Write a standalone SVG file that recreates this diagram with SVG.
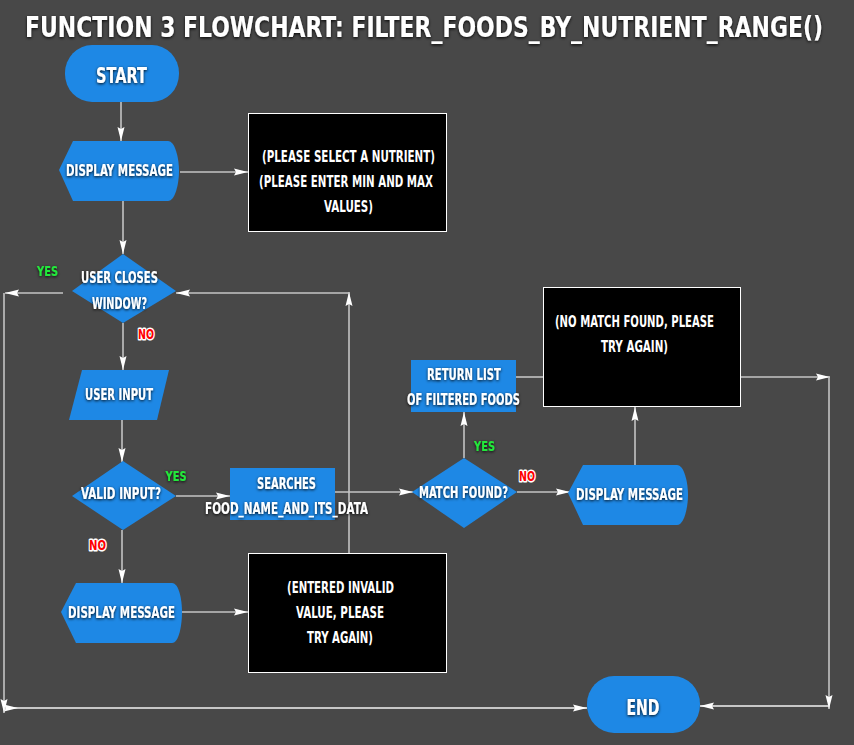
<svg xmlns="http://www.w3.org/2000/svg" width="854" height="745" viewBox="0 0 854 745">
<defs>
<style>
.t{font-family:"Liberation Sans Narrow","DejaVu Sans Condensed","Liberation Sans",sans-serif;font-weight:bold;fill:#fff;text-anchor:middle}
.n{font-size:16px;filter:url(#ts)}
.b{font-size:16px}
.big{font-size:21px;filter:url(#ts)}
.yes{font-family:"Liberation Sans Narrow","DejaVu Sans Condensed",sans-serif;font-weight:bold;font-size:14px;fill:#22e83a;filter:url(#ts);text-anchor:middle}
.no{font-family:"Liberation Sans Narrow","DejaVu Sans Condensed",sans-serif;font-weight:bold;font-size:14px;fill:#f00;stroke:#fff;stroke-width:3;paint-order:stroke;stroke-linejoin:round;text-anchor:middle}
.shape{fill:#1e88e5}
.box{fill:#000;stroke:#fff;stroke-width:1}
.c{fill:none;stroke:#c4c4c4;stroke-width:1.6}
.w{fill:none;stroke:#f2f2f2;stroke-width:1.6}
.a{marker-end:url(#ah)}
</style>
<filter id="ts" x="-20%" y="-40%" width="140%" height="180%">
<feDropShadow dx="0" dy="1" stdDeviation="1.6" flood-color="#000" flood-opacity="0.9"/>
</filter>
<marker id="ah" markerUnits="userSpaceOnUse" markerWidth="15" markerHeight="8" refX="14" refY="4" orient="auto">
<path d="M0,0.5 L14,4 L0,7.5 L2,4 z" fill="#fff"/>
</marker>
<marker id="as" markerUnits="userSpaceOnUse" markerWidth="15" markerHeight="8" refX="0" refY="4" orient="auto">
<path d="M0,0.5 L14,4 L0,7.5 L2,4 z" fill="#fff"/>
</marker>
</defs>
<rect width="854" height="745" fill="#484848"/>
<g transform="translate(424,37) scale(1,1.15)">
<text class="t" x="0" y="0" font-size="25" textLength="798" lengthAdjust="spacingAndGlyphs" filter="url(#ts)">FUNCTION 3 FLOWCHART: FILTER_FOODS_BY_NUTRIENT_RANGE()</text>
</g>

<g id="connectors">
<path class="c a" d="M121,102 V141"/>
<path class="c a" d="M180,172 H248"/>
<path class="c a" d="M123,201 V254"/>
<path class="c a" d="M63,293 H5"/>
<path class="c a" d="M4,293 V713"/>
<path class="w a" d="M4,708 H587" marker-start="url(#as)"/>
<path class="c a" d="M123,323 V370"/>
<path class="c a" d="M122,420 V462"/>
<path class="c a" d="M176,496 H230"/>
<path class="c a" d="M122,530 V583"/>
<path class="c a" d="M182,612 H248"/>
<path class="c a" d="M349,553 V292"/>
<path class="c a" d="M349,293 H176"/>
<path class="c a" d="M335,492 H413"/>
<path class="c a" d="M517,492 H570"/>
<path class="c a" d="M464,458 V412"/>
<path class="c a" d="M635,465 V407"/>
<path class="c" d="M516,377 H543"/>
<path class="c a" d="M740,377 H830"/>
<path class="c a" d="M829,377 V709"/>
<path class="w a" d="M829,706 H700"/>
</g>

<g id="start">
<rect class="shape" x="65" y="45" width="114" height="57" rx="27" ry="28"/>
<text class="t big" x="121.5" y="83" textLength="51" lengthAdjust="spacingAndGlyphs">START</text>
</g>

<g id="display1">
<path class="shape" d="M73,141 H168 C175,141 179,158 179,171 C179,184 175,201 168,201 H73 L59,170 Z"/>
<text class="t n" x="119.5" y="176" textLength="107" lengthAdjust="spacingAndGlyphs">DISPLAY MESSAGE</text>
</g>

<g id="msg1">
<rect class="box" x="248.5" y="113.5" width="198" height="118"/>
<text class="t b" x="348.5" y="162" textLength="173" lengthAdjust="spacingAndGlyphs">(PLEASE SELECT A NUTRIENT)</text>
<text class="t b" x="346" y="187" textLength="174" lengthAdjust="spacingAndGlyphs">(PLEASE ENTER MIN AND MAX</text>
<text class="t b" x="348.5" y="212" textLength="49" lengthAdjust="spacingAndGlyphs">VALUES)</text>
</g>

<g id="closes">
<path class="shape" d="M123,254 L176,291 L123,323 L72,291 Z"/>
<text class="t n" x="119.5" y="283" textLength="77" lengthAdjust="spacingAndGlyphs">USER CLOSES</text>
<text class="t n" x="119.5" y="309" textLength="55" lengthAdjust="spacingAndGlyphs">WINDOW?</text>
<text class="yes" x="47.5" y="276" textLength="21" lengthAdjust="spacingAndGlyphs">YES</text>
<text class="no" x="146" y="339" textLength="16" lengthAdjust="spacingAndGlyphs">NO</text>
</g>

<g id="input">
<path class="shape" d="M82,370 H169 L157,420 H69 Z"/>
<text class="t n" x="119" y="400" textLength="68" lengthAdjust="spacingAndGlyphs">USER INPUT</text>
</g>

<g id="valid">
<path class="shape" d="M123,461 L176,496 L123,530 L72,496 Z"/>
<text class="t n" x="121" y="499" textLength="80" lengthAdjust="spacingAndGlyphs">VALID INPUT?</text>
<text class="yes" x="176" y="481" textLength="21" lengthAdjust="spacingAndGlyphs">YES</text>
<text class="no" x="97.5" y="550" textLength="17" lengthAdjust="spacingAndGlyphs">NO</text>
</g>

<g id="searches">
<rect class="shape" x="230" y="468" width="105" height="52"/>
<text class="t n" x="286.5" y="489" textLength="59" lengthAdjust="spacingAndGlyphs">SEARCHES</text>
<text class="t n" x="286.5" y="514" textLength="163" lengthAdjust="spacingAndGlyphs">FOOD_NAME_AND_ITS_DATA</text>
</g>

<g id="display2">
<path class="shape" d="M76,583 H172 C179,583 182,600 182,612 C182,625 179,643 172,643 H76 L61,612 Z"/>
<text class="t n" x="121.5" y="618" textLength="107" lengthAdjust="spacingAndGlyphs">DISPLAY MESSAGE</text>
</g>

<g id="msg3">
<rect class="box" x="248.5" y="553.5" width="198" height="119"/>
<text class="t b" x="340.5" y="593" textLength="107" lengthAdjust="spacingAndGlyphs">(ENTERED INVALID</text>
<text class="t b" x="340" y="618" textLength="88" lengthAdjust="spacingAndGlyphs">VALUE, PLEASE</text>
<text class="t b" x="340" y="643" textLength="66" lengthAdjust="spacingAndGlyphs">TRY AGAIN)</text>
</g>

<g id="match">
<path class="shape" d="M464,458 L517,492 L464,528 L412,492 Z"/>
<text class="t n" x="463.5" y="498" textLength="89" lengthAdjust="spacingAndGlyphs">MATCH FOUND?</text>
<text class="yes" x="484.5" y="451" textLength="21" lengthAdjust="spacingAndGlyphs">YES</text>
<text class="no" x="527" y="481" textLength="16" lengthAdjust="spacingAndGlyphs">NO</text>
</g>

<g id="returnlist">
<rect class="shape" x="411" y="360" width="105" height="52"/>
<text class="t n" x="464" y="380" textLength="74" lengthAdjust="spacingAndGlyphs">RETURN LIST</text>
<text class="t n" x="463.5" y="405" textLength="113" lengthAdjust="spacingAndGlyphs">OF FILTERED FOODS</text>
</g>

<g id="display3">
<path class="shape" d="M583,465 H677 C684,465 688,482 688,495 C688,508 684,525 677,525 H583 L568,493 Z"/>
<text class="t n" x="629.5" y="500" textLength="107" lengthAdjust="spacingAndGlyphs">DISPLAY MESSAGE</text>
</g>

<g id="msg2">
<rect class="box" x="543.5" y="287.5" width="197" height="119"/>
<text class="t b" x="634.5" y="327" textLength="159" lengthAdjust="spacingAndGlyphs">(NO MATCH FOUND, PLEASE</text>
<text class="t b" x="634.5" y="352" textLength="67" lengthAdjust="spacingAndGlyphs">TRY AGAIN)</text>
</g>

<g id="end">
<rect class="shape" x="587" y="676" width="113" height="57" rx="27" ry="28"/>
<text class="t big" x="643" y="715" textLength="33" lengthAdjust="spacingAndGlyphs">END</text>
</g>
</svg>
